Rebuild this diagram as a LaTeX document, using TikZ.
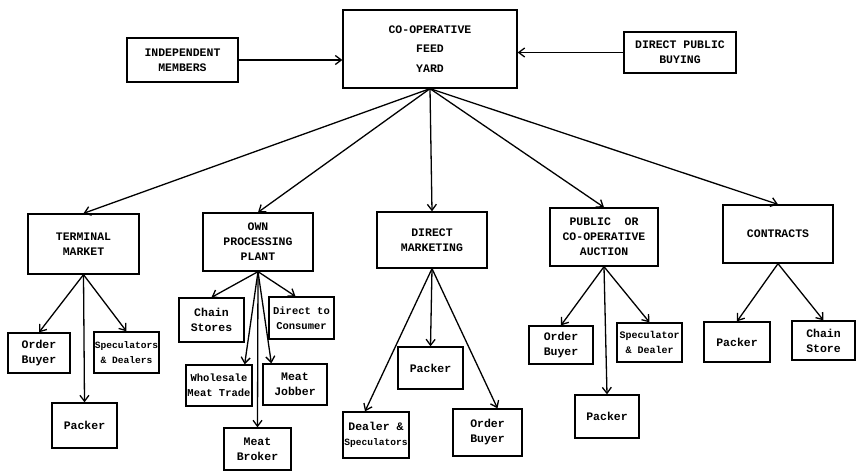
\documentclass[tikz,border=0pt]{standalone}
\usepackage{fontspec}
\setmonofont{Liberation Mono}
\usetikzlibrary{arrows.meta,calc}
\tikzset{
  box/.style={draw=black, line width=1.3pt, rectangle, inner sep=0pt, align=center, fill=white},
  capbox/.style={box, font=\ttfamily\bfseries\fontsize{11.5}{15}\selectfont},
  lowbox/.style={box, font=\ttfamily\bfseries\fontsize{11.5}{15}\selectfont},
  conn/.style={line width=1.3pt, -{Straight Barb[length=6pt,width=9pt,line width=1.3pt]}},
}
\begin{document}
\begin{tikzpicture}[x=1pt,y=-1pt]
\useasboundingbox[fill=white] (0,0) rectangle (857,472);
% top level
\node[capbox, minimum width=174pt, minimum height=78pt, font=\ttfamily\bfseries\fontsize{11.5}{19.5}\selectfont] (fy) at (430,49) {CO-OPERATIVE\\FEED\\YARD};
\node[capbox, minimum width=111pt, minimum height=44pt] (im) at (182.5,60) {INDEPENDENT\\MEMBERS};
\node[capbox, minimum width=112pt, minimum height=41pt] (dpb) at (680,52.5) {DIRECT PUBLIC\\BUYING};
% second level
\node[capbox, minimum width=111pt, minimum height=60pt] (tm) at (83.5,244) {TERMINAL\\MARKET};
\node[capbox, minimum width=110pt, minimum height=58pt] (ops) at (258,242) {OWN\\PROCESSING\\PLANT};
\node[capbox, minimum width=110pt, minimum height=56pt] (dm) at (432,240) {DIRECT\\MARKETING};
\node[capbox, minimum width=108pt, minimum height=58pt] (pca) at (604,237) {PUBLIC~~OR\\CO-OPERATIVE\\AUCTION};
\node[capbox, minimum width=110pt, minimum height=58pt] (ct) at (778,234) {CONTRACTS};
% terminal market children
\node[lowbox, minimum width=62pt, minimum height=40pt] (tob) at (39,353) {Order\\Buyer};
\node[lowbox, minimum width=65pt, minimum height=41pt, font=\ttfamily\bfseries\fontsize{9.6}{15}\selectfont] (tsd) at (126.5,352.5) {Speculators\\\& Dealers};
\node[lowbox, minimum width=65pt, minimum height=45pt] (tpk) at (84.5,425.5) {Packer};
% own processing plant children
\node[lowbox, minimum width=65pt, minimum height=44pt] (cs) at (211.5,320) {Chain\\Stores};
\node[lowbox, minimum width=65pt, minimum height=42pt, font=\ttfamily\bfseries\fontsize{10.5}{15}\selectfont] (dc) at (301.5,318) {Direct to\\Consumer};
\node[lowbox, minimum width=66pt, minimum height=41pt, font=\ttfamily\bfseries\fontsize{10.5}{15}\selectfont] (wmt) at (219,385.5) {Wholesale\\Meat Trade};
\node[lowbox, minimum width=64pt, minimum height=41pt] (mj) at (295,384.5) {Meat\\Jobber};
\node[lowbox, minimum width=67pt, minimum height=42pt] (mb) at (257.5,449) {Meat\\Broker};
% direct marketing children
\node[lowbox, minimum width=65pt, minimum height=42pt] (dpk) at (430.5,368) {Packer};
\node[lowbox, minimum width=66pt, minimum height=46pt] (dds) at (376,435) {Dealer \&\\{\fontsize{9.6}{15}\selectfont Speculators}};
\node[lowbox, minimum width=69pt, minimum height=47pt] (dob) at (487.5,432.5) {Order\\Buyer};
% auction children
\node[lowbox, minimum width=64pt, minimum height=38pt] (aob) at (561,345) {Order\\Buyer};
\node[lowbox, minimum width=65pt, minimum height=39pt, font=\ttfamily\bfseries\fontsize{10}{15}\selectfont] (asd) at (649.5,342.5) {Speculator\\\& Dealer};
\node[lowbox, minimum width=64pt, minimum height=43pt] (apk) at (607,416.5) {Packer};
% contracts children
\node[lowbox, minimum width=66pt, minimum height=40pt] (cpk) at (737,342) {Packer};
\node[lowbox, minimum width=63pt, minimum height=39pt] (ccs) at (823.5,340.5) {Chain\\Store};
% connectors: top
\draw[conn] (im.east) -- (im.east -| fy.west);
\draw[conn] (dpb.west) -- (dpb.west -| fy.east);
\draw[conn] (fy.south) -- (tm.north);
\draw[conn] (fy.south) -- (ops.north);
\draw[conn] (fy.south) -- (dm.north);
\draw[conn] (fy.south) -- (pca.north);
\draw[conn] (fy.south) -- (ct.north);
% terminal market
\draw[conn] (tm.south) -- (tob.north);
\draw[conn] (tm.south) -- (tsd.north);
\draw[conn] (tm.south) -- (tpk.north);
% own processing
\draw[conn] (ops.south) -- (cs.north);
\draw[conn] (ops.south) -- ($(dc.north)+(-6,0)$);
\draw[conn] (ops.south) -- ($(wmt.north east)+(-8,0)$);
\draw[conn] (ops.south) -- ($(mj.north west)+(9,0)$);
\draw[conn] (ops.south) -- (mb.north);
% direct marketing
\draw[conn] (dm.south) -- (dpk.north);
\draw[conn] (dm.south) -- ($(dds.north)+(-11,0)$);
\draw[conn] (dm.south) -- ($(dob.north)+(10,0)$);
% auction
\draw[conn] (pca.south) -- (aob.north);
\draw[conn] (pca.south) -- (asd.north);
\draw[conn] (pca.south) -- (apk.north);
% contracts
\draw[conn] (ct.south) -- (cpk.north);
\draw[conn] (ct.south) -- (ccs.north);
\end{tikzpicture}
\end{document}
